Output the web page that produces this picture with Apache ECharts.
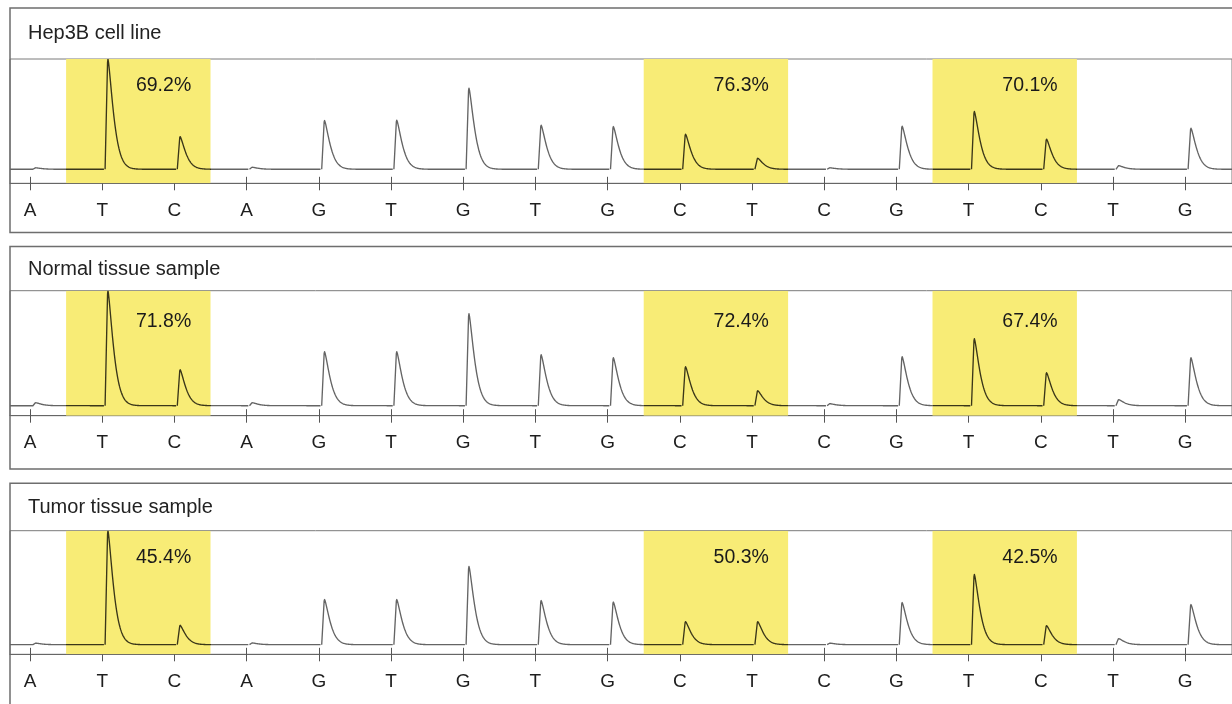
<!DOCTYPE html>
<html>
<head>
<meta charset="utf-8">
<script src="https://cdn.jsdelivr.net/npm/echarts@6/dist/echarts.min.js"></script>
<style>
html,body{margin:0;padding:0;background:#fff;}
#chart{width:1232px;height:704px;}
</style>
</head>
<body>
<div id="chart"></div>
<script>
// ---- data ----
const dispensation = ['A','T','C','A','G','T','G','T','G','C','T','C','G','T','C','T','G'];
const panelTitles = ['Hep3B cell line', 'Normal tissue sample', 'Tumor tissue sample'];
const hep3bHeights  = [1.5, 110, 32.6, 2.0, 48.6, 49, 81, 44, 42.6, 35, 11, 1.5, 43, 57.6, 30, 3.6, 41];
const normalHeights = [3.0, 115, 36, 3.0, 54, 54, 92, 51, 48, 39, 15, 2.0, 49, 67, 33, 6, 48];
const tumorHeights  = [1.5, 113.6, 19.3, 1.7, 45, 45, 78, 44, 42.5, 23, 23, 1.5, 42, 70, 19, 6, 40];
const highlightFrom = [1, 9, 13];
const highlightTo   = [2, 10, 14];
const hep3bMethylation  = ['69.2%', '76.3%', '70.1%'];
const normalMethylation = ['71.8%', '72.4%', '67.4%'];
const tumorMethylation  = ['45.4%', '50.3%', '42.5%'];

const panelHeights = [hep3bHeights, normalHeights, tumorHeights];
const panelPct = [hep3bMethylation, normalMethylation, tumorMethylation];

// ---- layout (pixels) ----
const FONT = '"Liberation Sans", Arial, Helvetica, sans-serif';
const layout = [
  {boxTop: 8,     boxBottom: 232.5, plotTop: 59,    axisY: 183.3, titleY: 33.8,  yMin: -14,  yMax: 110,   pctDy: 27},
  {boxTop: 246.5, boxBottom: 469,   plotTop: 290.7, axisY: 415.7, titleY: 269.2, yMin: -10,  yMax: 115,   pctDy: 31},
  {boxTop: 483.3, boxBottom: 800,   plotTop: 530.7, axisY: 654.3, titleY: 507.2, yMin: -9.6, yMax: 113.6, pctDy: 26.6}
];
const X_MIN = -0.277, X_MAX = 16.648;
const tickVals = dispensation.map((d, i) => i);
const TRACE = '#646464', TRACE_IN = '#3a3618';

const chart = echarts.init(document.getElementById('chart'), null, {renderer: 'canvas'});

const grids = [], xAxes = [], yAxes = [], series = [], titles = [], graphics = [];

layout.forEach((L, p) => {
  grids.push({
    left: 10, right: 0, top: L.plotTop, height: L.axisY - L.plotTop,
    show: true, borderColor: '#7a7a7a', borderWidth: 1, backgroundColor: 'transparent'
  });
  // main axis with outward ticks + labels
  xAxes.push({
    type: 'value', gridIndex: p, min: X_MIN, max: X_MAX, position: 'bottom',
    splitLine: {show: false},
    axisLine: {show: true, onZero: false, lineStyle: {color: '#666', width: 1.2}},
    axisTick: {show: true, customValues: tickVals, length: 7, inside: false, lineStyle: {color: '#555', width: 1}},
    axisLabel: {show: true, customValues: tickVals, margin: 18, fontSize: 19, color: '#1e1e1e', fontFamily: FONT,
      formatter: v => dispensation[Math.round(v)]}
  });
  // companion axis with inward ticks (ticks cross the axis line)
  xAxes.push({
    type: 'value', gridIndex: p, min: X_MIN, max: X_MAX, position: 'bottom',
    splitLine: {show: false}, axisLine: {show: false, onZero: false}, axisLabel: {show: false},
    axisTick: {show: true, customValues: tickVals, length: 6.5, inside: true, lineStyle: {color: '#555', width: 1}}
  });
  yAxes.push({type: 'value', gridIndex: p, min: L.yMin, max: L.yMax, show: false});

  const heights = panelHeights[p];
  const pct = panelPct[p];

  // highlighted regions + methylation labels
  series.push({
    type: 'custom', xAxisIndex: p * 2, yAxisIndex: p, clip: true, z: 1, silent: true,
    data: highlightFrom.map((s, k) => [s, highlightTo[k], pct[k]]),
    renderItem: (params, api) => {
      const s = api.value(0), e = api.value(1);
      const a = api.coord([s - 0.5, L.yMax]);
      const b = api.coord([e + 0.5, L.yMin]);
      const t = api.coord([s + 0.85, L.yMax]);
      return {
        type: 'group',
        children: [
          {type: 'rect', shape: {x: a[0], y: a[1], width: b[0] - a[0], height: b[1] - a[1]},
           style: {fill: '#f8ec76'}},
          {type: 'text', style: {text: pct[params.dataIndex], x: t[0], y: t[1] + L.pctDy,
            align: 'center', verticalAlign: 'middle', fill: '#1a1a1a',
            font: '19.5px ' + FONT}, z2: 5}
        ]
      };
    }
  });

  // pyrogram trace: one peak glyph per dispensation, positioned through the axes
  series.push({
    type: 'custom', xAxisIndex: p * 2, yAxisIndex: p, clip: true, z: 2, silent: true,
    data: heights.map((h, i) => [i, h]),
    renderItem: (params, api) => {
      const i = api.value(0), h = api.value(1);
      // stroke darker where it crosses a highlighted band
      const left = api.coord([X_MIN, 0])[0], right = api.coord([X_MAX, 0])[0];
      const W = right - left;
      const stops = [{offset: 0, color: TRACE}];
      highlightFrom.forEach((s, k) => {
        const o1 = (api.coord([s - 0.5, 0])[0] - left) / W;
        const o2 = (api.coord([highlightTo[k] + 0.5, 0])[0] - left) / W;
        stops.push({offset: o1, color: TRACE}, {offset: o1, color: TRACE_IN},
                   {offset: o2, color: TRACE_IN}, {offset: o2, color: TRACE});
      });
      stops.push({offset: 1, color: TRACE});
      const grad = {type: 'linear', x: left, y: 0, x2: right, y2: 0, global: true, colorStops: stops};

      const pts = [];
      if (params.dataIndex === 0) pts.push(api.coord([i - 1, 0]));
      const x0 = i + 0.04, xp = i + 0.08;
      pts.push(api.coord([x0, 0]));
      pts.push(api.coord([xp - 0.006, h * 0.97]));
      pts.push(api.coord([xp, h]));
      for (let t = 0.008; t <= 0.95; t += 0.008) {
        const f = Math.exp(-Math.pow(t / 0.1035, 1.33));
        pts.push(api.coord([xp + t, h * f]));
      }
      return {type: 'polyline', shape: {points: pts},
        style: {stroke: grad, lineWidth: 1.35, fill: null, lineJoin: 'round'}};
    }
  });

  titles.push({
    text: panelTitles[p], left: 28, top: L.titleY - 10.5, padding: 0,
    textStyle: {fontSize: 20, fontWeight: 'normal', color: '#222', fontFamily: FONT, lineHeight: 21}
  });

  graphics.push({
    type: 'rect', z: 0, silent: true,
    shape: {x: 10, y: L.boxTop, width: 1240, height: L.boxBottom - L.boxTop},
    style: {fill: null, stroke: '#6e6e6e', lineWidth: 1.5}
  });
});

chart.setOption({
  backgroundColor: '#ffffff',
  animation: false,
  title: titles,
  grid: grids,
  xAxis: xAxes,
  yAxis: yAxes,
  series: series,
  graphic: graphics
});
</script>
</body>
</html>
